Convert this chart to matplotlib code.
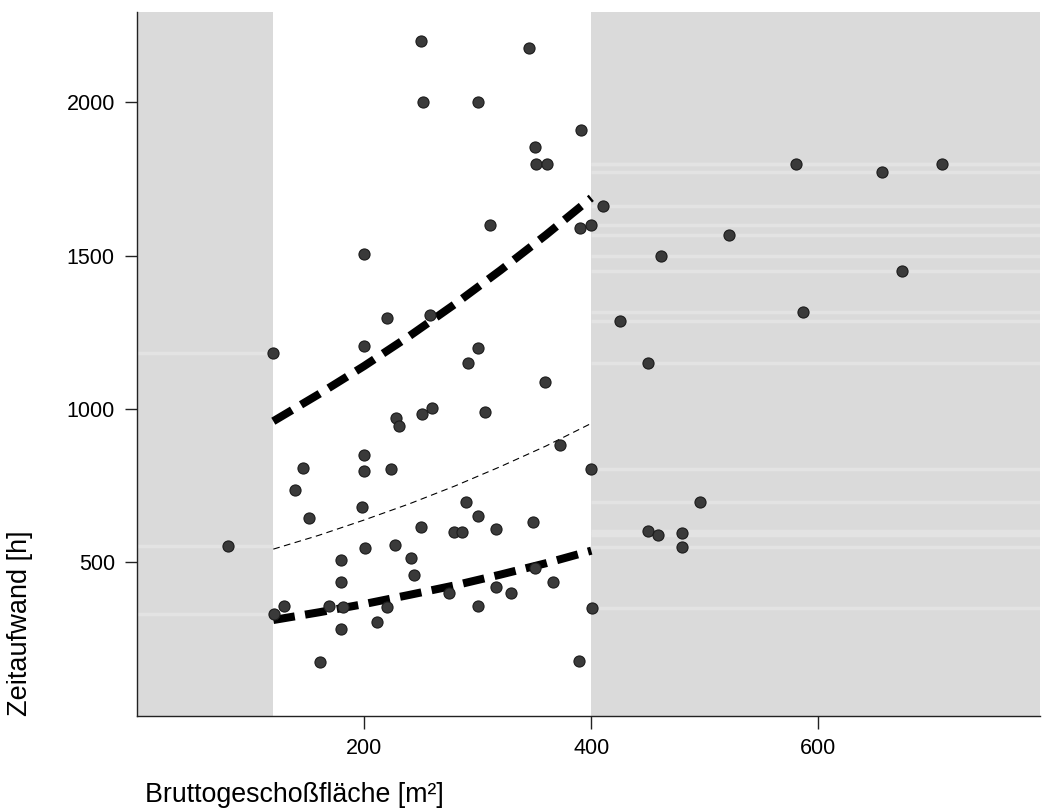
#!/usr/bin/env python3
import matplotlib
matplotlib.use("Agg")
import matplotlib.pyplot as plt

plt.rcParams["font.family"] = ["Liberation Sans", "DejaVu Sans"]

# observed projects: gross floor area [m²] vs. effort [h]
area = [80, 120, 121, 129, 139, 146, 151, 161, 169, 180, 180, 181, 180, 198,
        200, 200, 200, 200, 201, 211, 220, 220, 224, 227, 228, 231, 241, 244,
        250, 252, 250, 251, 258, 260, 275, 279, 286, 290, 291, 300, 300, 300,
        300, 306, 311, 316, 316, 329, 345, 349, 350, 351, 361, 350, 359, 366,
        372, 389, 390, 391, 400, 400, 401, 410, 425, 450, 450, 459, 461, 480,
        480, 496, 521, 580, 586, 656, 674, 709]
hours = [554, 1183, 332, 358, 736, 808, 646, 176, 358, 507, 437, 355, 283, 681,
         1505, 1205, 850, 799, 546, 306, 1296, 355, 803, 557, 970, 945, 514, 459,
         2200, 2000, 616, 983, 1305, 1003, 399, 600, 598, 697, 1149, 2000, 1200, 651,
         357, 991, 1600, 608, 419, 401, 2175, 632, 1855, 1797, 1797, 480, 1087, 437,
         883, 177, 1590, 1910, 1598, 803, 350, 1660, 1288, 1149, 601, 589, 1499, 594,
         551, 697, 1566, 1800, 1316, 1772, 1449, 1799]

# model curve (centre) and band, valid range 120..400 m²
curve_x = [120, 160, 200, 240, 280, 320, 360, 400]
curve_mid = [543, 588, 638, 691, 749, 812, 879, 953]
curve_hi = [960, 1048, 1140, 1238, 1342, 1452, 1567, 1688]
curve_lo = [312, 337, 364, 394, 425, 460, 497, 538]

valid_lo, valid_hi = 120, 400
xmax, ymax = 795, 2294

fig = plt.figure(figsize=(10.42, 8.09), dpi=100)
ax = fig.add_axes([0.1315, 0.1153, 0.8665, 0.8699])

gray = "#dadada"
ax.axvspan(0, valid_lo, color=gray, lw=0, zorder=0)
ax.axvspan(valid_hi, xmax, color=gray, lw=0, zorder=0)

# faint light streaks inside the shaded areas at the y of the points there
for x, y in zip(area, hours):
    if x <= valid_lo + 1:
        ax.hlines(y, 0, valid_lo, color="#e3e3e3", lw=2.5, zorder=0.5)
    elif x >= valid_hi:
        ax.hlines(y, valid_hi, xmax, color="#e3e3e3", lw=2.5, zorder=0.5)

ax.plot(curve_x, curve_hi, color="black", lw=5.8, ls=(0, (2.7, 1.3)),
        solid_capstyle="butt", dash_capstyle="butt", zorder=2)
ax.plot(curve_x, curve_lo, color="black", lw=5.8, ls=(0, (2.7, 1.3)),
        solid_capstyle="butt", dash_capstyle="butt", zorder=2)
ax.plot(curve_x, curve_mid, color="black", lw=0.8, ls=(0, (6, 4)), zorder=2)

ax.scatter(area, hours, s=64, color="#3a3a3a", edgecolors="#1c1c1c",
           linewidths=0.8, zorder=3)

ax.set_xlim(0, xmax)
ax.set_ylim(0, ymax)
ax.set_xticks([200, 400, 600])
ax.set_yticks([500, 1000, 1500, 2000])
for s in ["top", "right"]:
    ax.spines[s].set_visible(False)
for s in ["left", "bottom"]:
    ax.spines[s].set_color("#222222")
    ax.spines[s].set_linewidth(1.0)
ax.tick_params(direction="out", length=9, width=1, color="#222222",
               labelsize=15.5, pad=7)

fig.text(0.019, 0.1153, "Zeitaufwand [h]", rotation=90, ha="center",
         va="bottom", fontsize=19.5)
fig.text(145 / 1042, 1 - 795 / 809, "Bruttogeschoßfläche [m²]", ha="left",
         va="center", fontsize=19.3)

fig.savefig("out.png", dpi=100)
plt.close(fig)
